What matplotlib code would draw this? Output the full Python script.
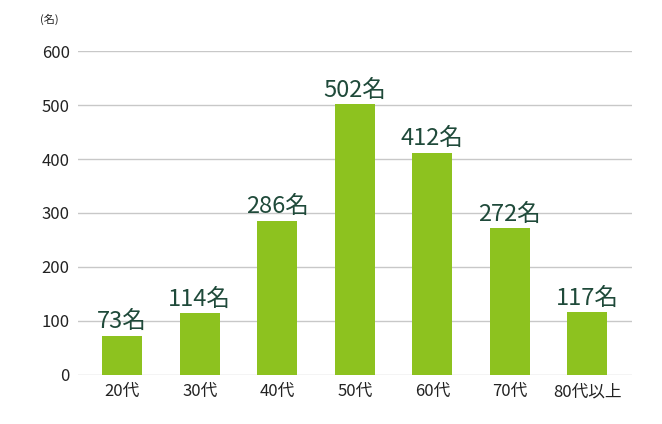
import matplotlib
matplotlib.use('Agg')
import matplotlib.pyplot as plt

plt.rcParams['font.family'] = ['Noto Sans CJK JP', 'DejaVu Sans']

categories = ['20代', '30代', '40代', '50代', '60代', '70代', '80代以上']
counts = [73, 114, 286, 502, 412, 272, 117]
yticks = [0, 100, 200, 300, 400, 500, 600]

fig = plt.figure(figsize=(6.62, 4.24), dpi=100)
ax = fig.add_axes([0.118, 0.1156, 0.837, 0.7641])

x = range(len(categories))
ax.bar(x, counts, width=0.52, color='#8dc21f', zorder=2)
for i, v in zip(x, counts):
    ax.text(i, v + 4, f'{v}名', ha='center', va='bottom', fontsize=17, color='#1f4a3a')

ax.set_xlim(-0.57, 6.58)
ax.set_ylim(0, 600)
ax.set_yticks(yticks)
ax.set_yticklabels([str(t) for t in yticks], fontsize=12, color='#222222')
ax.set_xticks(list(x))
ax.set_xticklabels(categories, fontsize=12, color='#222222')
ax.grid(axis='y', color='#c8c8c8', linewidth=1, zorder=0)
ax.tick_params(length=0, pad=6)
for s in ax.spines.values():
    s.set_visible(False)

fig.text(0.075, 0.945, '(名)', fontsize=8, color='#222222', ha='center')

fig.savefig('out.png', dpi=100)
